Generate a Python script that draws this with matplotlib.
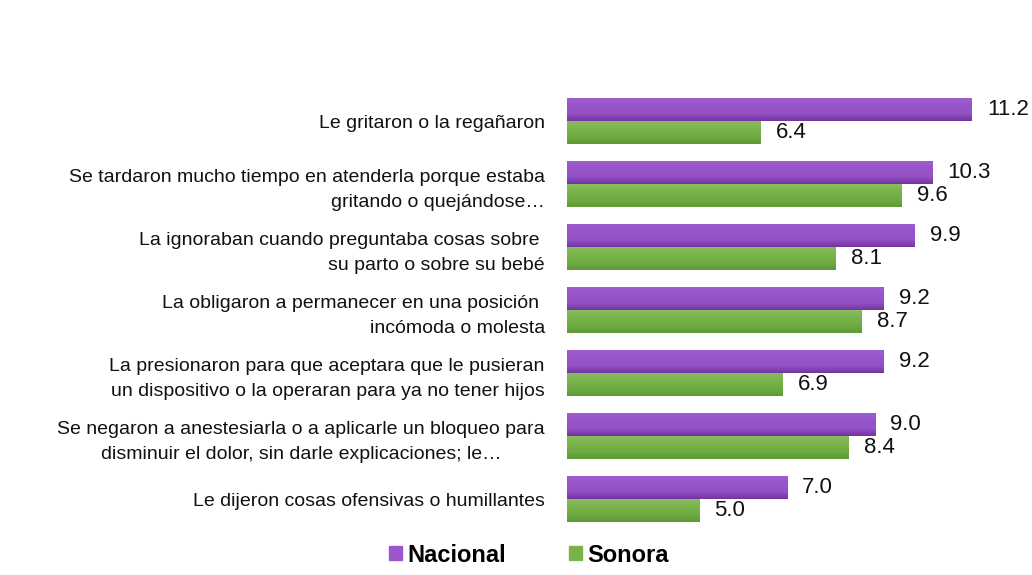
import numpy as np
import matplotlib.pyplot as plt
from matplotlib.colors import LinearSegmentedColormap
from matplotlib.patches import Patch

# datos
categorias = [
    'Le gritaron o la regañaron',
    'Se tardaron mucho tiempo en atenderla porque estaba\ngritando o quejándose…',
    'La ignoraban cuando preguntaba cosas sobre \nsu parto o sobre su bebé',
    'La obligaron a permanecer en una posición \nincómoda o molesta',
    'La presionaron para que aceptara que le pusieran\nun dispositivo o la operaran para ya no tener hijos',
    'Se negaron a anestesiarla o a aplicarle un bloqueo para\ndisminuir el dolor, sin darle explicaciones; le…',
    'Le dijeron cosas ofensivas o humillantes',
]
nacional = [11.2, 10.3, 9.9, 9.2, 9.2, 9.0, 7.0]
sonora = [6.4, 9.6, 8.1, 8.7, 6.9, 8.4, 5.0]
series = ['Nacional', 'Sonora']

morado = '#9A56CA'
verde = '#78B449'
grad_morado = LinearSegmentedColormap.from_list('m', ['#9E5DCF', '#9854C9', '#9552C6', '#7533A2'])
grad_verde = LinearSegmentedColormap.from_list('v', ['#87BE60', '#79B44A', '#6FAC41', '#5E9A35'])

fig = plt.figure(figsize=(10.32, 5.75), dpi=100)
ax = fig.add_axes([0.5494, 0.0664, 0.4264, 0.7889])

xmin, xmax = 2, 12
y = np.arange(len(categorias))
h = 0.365
b1 = ax.barh(y - h / 2, nacional, height=h, color=morado)
b2 = ax.barh(y + h / 2, sonora, height=h, color=verde)

# degradado en cada barra
grad = np.linspace(0, 1, 64).reshape(-1, 1)
for bars, cm in [(b1, grad_morado), (b2, grad_verde)]:
    for p in bars:
        x0, y0, x1, y1 = p.get_bbox().extents
        x0 = max(x0, xmin)
        ax.imshow(grad, cmap=cm, aspect='auto', origin='upper',
                  extent=(x0, x1, y1, y0), zorder=2)

for bars, vals in [(b1, nacional), (b2, sonora)]:
    for p, v in zip(bars, vals):
        ax.annotate(f'{v:.1f}', (p.get_width(), p.get_y() + p.get_height() / 2),
                    xytext=(11, 0), textcoords='offset points', va='center', ha='left',
                    fontsize=16, family=['Liberation Sans', 'DejaVu Sans'], color='#111111',
                    annotation_clip=False)

ax.set_xlim(xmin, xmax)
ax.set_ylim(6.6, -0.6)
ax.set_yticks(y)
ax.set_yticklabels(categorias, fontsize=14, family=['Liberation Sans', 'DejaVu Sans'],
                   linespacing=1.6, color='#111111')
ax.get_yticklabels()[5].set_multialignment('center')
ax.tick_params(axis='y', length=0, pad=16)
ax.set_xticks([])
for s in ax.spines.values():
    s.set_visible(False)

handles = [Patch(color=morado), Patch(color=verde)]
fig.legend(handles, series, loc='center', bbox_to_anchor=(529 / 1032, 1 - 555 / 575),
           ncol=2, frameon=False, handlelength=0.55, handleheight=0.55, handletextpad=0.2,
           columnspacing=2.7, prop={'family': ['Liberation Sans', 'DejaVu Sans'],
                                    'weight': 'bold', 'size': 17})

fig.savefig('out.png', dpi=100)
